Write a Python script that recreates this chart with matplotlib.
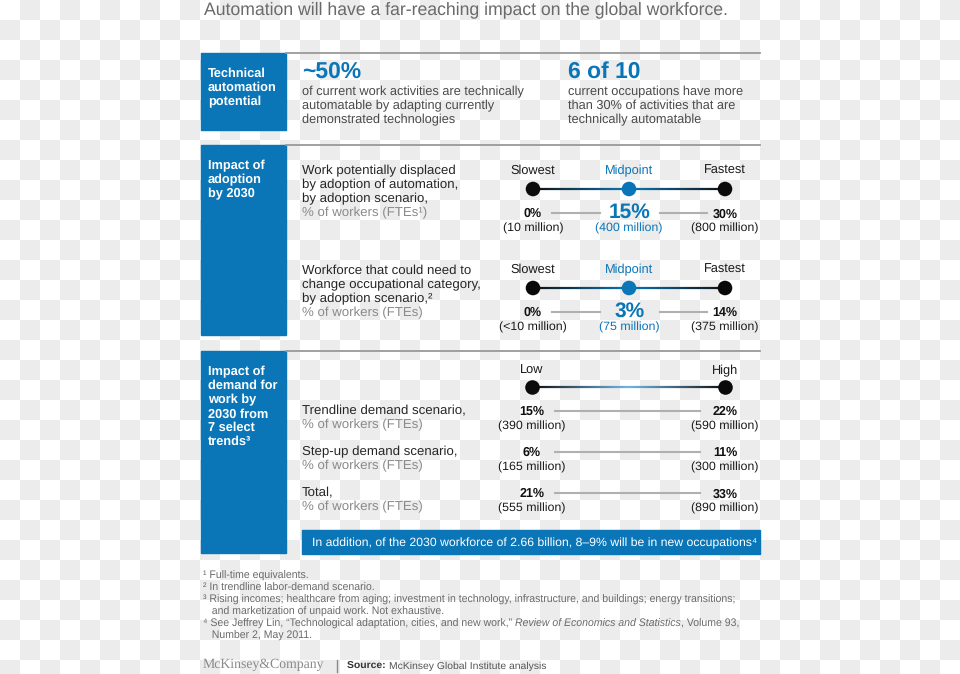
import numpy as np
import matplotlib
matplotlib.use("Agg")
import matplotlib.pyplot as plt
from matplotlib.collections import LineCollection
from matplotlib.colors import LinearSegmentedColormap

plt.rcParams["font.family"] = ["Liberation Sans", "DejaVu Sans"]
plt.rcParams["text.hinting"] = "no_hinting"

# ---- data ----
title = "Automation will have a far-reaching impact on the global workforce."

potential_stats = ["~50%", "6 of 10"]
potential_texts = [
    "of current work activities are technically\nautomatable by adapting currently\ndemonstrated technologies",
    "current occupations have more\nthan 30% of activities that are\ntechnically automatable",
]

adoption_labels = ["Slowest", "Midpoint", "Fastest"]
displaced_pct = [0, 15, 30]
displaced_mn = ["(10 million)", "(400 million)", "(800 million)"]
occ_change_pct = [0, 3, 14]
occ_change_mn = ["(<10 million)", "(75 million)", "(375 million)"]

demand_labels = ["Low", "High"]
demand_rows = ["Trendline demand scenario,", "Step-up demand scenario,", "Total,"]
demand_low_pct = [15, 6, 21]
demand_low_mn = ["(390 million)", "(165 million)", "(555 million)"]
demand_high_pct = [22, 11, 33]
demand_high_mn = ["(590 million)", "(300 million)", "(890 million)"]

banner = "In addition, of the 2030 workforce of 2.66 billion, 8\u20139% will be in new occupations\u2074"

footnotes = [
    "\u00b9 Full-time equivalents.",
    "\u00b2 In trendline labor-demand scenario.",
    "\u00b3 Rising incomes; healthcare from aging; investment in technology, infrastructure, and buildings; energy transitions;",
    "   and marketization of unpaid work. Not exhaustive.",
]

# ---- style ----
BLUE = "#0a76b8"
DARK = "#262626"
MID = "#4a4a4a"
GREY = "#8a8a8a"
RULE = "#9a9a9a"
CONN = "#b0b0b0"
FN = "#6a6a6a"

fig = plt.figure(figsize=(9.6, 6.74), dpi=100)
ax = fig.add_axes([0, 0, 1, 1])

# transparent-background checkerboard
ny, nx = 34, 48
checker = (np.add.outer(np.arange(ny), np.arange(nx)) % 2).astype(float)
ax.imshow(checker, cmap=LinearSegmentedColormap.from_list("chk", ["#ffffff", "#ececec"]),
          extent=(0, nx * 20, ny * 20, 0), interpolation="nearest", zorder=0, aspect="auto")
ax.set_xlim(0, 960)
ax.set_ylim(674, 0)
ax.axis("off")

ax.text(204, 10, title, fontsize=12.7, color="#6a6a6a", va="center", ha="left")

LEFT, SPLIT, RIGHT = 201, 286, 760
TX = 302


def section(y0, y1, label):
    ax.add_patch(plt.Rectangle((LEFT, y0), SPLIT - LEFT, y1 - y0, color=BLUE, zorder=2))
    ax.plot([SPLIT, RIGHT], [y0, y0], color=RULE, lw=1.3, zorder=2)
    for i, line in enumerate(label):
        ax.text(208, y0 + 21 + i * 14, line, color="white", fontsize=9.2,
                fontweight="bold", va="center", ha="left", zorder=3)


def text_block(x, y, lines, n_dark, size=9.5, dark=DARK):
    for i, line in enumerate(lines):
        ax.text(x, y + 1 + i * 14, line, color=dark if i < n_dark else GREY,
                fontsize=size, va="center", ha="left", zorder=3)


def gradient_line(xs, y, colors):
    xx = np.linspace(xs[0], xs[-1], 200)
    segs = [[(xx[i], y), (xx[i + 1], y)] for i in range(len(xx) - 1)]
    cmap = LinearSegmentedColormap.from_list("g", colors)
    lc = LineCollection(segs, colors=cmap(np.linspace(0, 1, len(segs))), lw=1.6, zorder=3)
    ax.add_collection(lc)


# section 1
section(53, 130, ["Technical", "automation", "potential"])
for x, stat, txt in zip([TX, 568], potential_stats, potential_texts):
    ax.text(x, 71.5, stat, color=BLUE, fontsize=16.5, fontweight="bold", va="center", ha="left")
    text_block(x, 91, txt.split("\n"), 3, size=9.2, dark=MID)

# section 2
section(145, 335, ["Impact of", "adoption", "by 2030"])
SX = [533, 629, 725]


def adoption_scale(ytop, pct, mn):
    for x, lab in zip(SX, adoption_labels):
        ax.text(x, ytop + 1, lab, color=BLUE if lab == "Midpoint" else "#1a1a1a",
                fontsize=9.2, va="center", ha="center", zorder=3)
    gradient_line(SX, ytop + 19, ["#111111", BLUE, "#111111"])
    ax.scatter(SX, [ytop + 19] * 3, s=110, c=["#0a0a0a", BLUE, "#0a0a0a"], zorder=4, linewidths=0)
    yv = ytop + 42
    ax.plot([552, 600], [yv + 1, yv + 1], color=CONN, lw=1.5, zorder=2)
    ax.plot([660, 707], [yv + 1, yv + 1], color=CONN, lw=1.5, zorder=2)
    for i, (x, p, m) in enumerate(zip(SX, pct, mn)):
        if i == 1:
            ax.text(x + 1, yv, f"{p}%", color=BLUE, fontsize=15, fontweight="bold",
                    va="center", ha="center", zorder=3)
            ax.text(x, yv + 16, m, color=BLUE, fontsize=8.9, va="center", ha="center", zorder=3)
        else:
            ax.text(x, yv + 2, f"{p}%", color="#111111", fontsize=9, fontweight="bold",
                    va="center", ha="center", zorder=3)
            ax.text(x, yv + 16, m, color="#1a1a1a", fontsize=8.9, va="center", ha="center", zorder=3)


text_block(TX, 170, ["Work potentially displaced", "by adoption of automation,",
                     "by adoption scenario,", "% of workers (FTEs\u00b9)"], 3)
adoption_scale(170, displaced_pct, displaced_mn)
text_block(TX, 270, ["Workforce that could need to", "change occupational category,",
                     "by adoption scenario,\u00b2", "% of workers (FTEs)"], 3)
adoption_scale(269, occ_change_pct, occ_change_mn)

# section 3
section(351, 553, ["Impact of", "demand for", "work by", "2030 from", "7 select", "trends\u00b3"])
DX = [532, 725]
for x, lab in zip(DX, demand_labels):
    ax.text(x, 371, lab, color="#1a1a1a", fontsize=9.2, va="center", ha="center", zorder=3)
gradient_line(DX, 387, ["#111111", "#6fb6e6", "#111111"])
ax.scatter(DX, [387, 387], s=110, c="#0a0a0a", zorder=4, linewidths=0)
for i, row in enumerate(demand_rows):
    y = 410 + i * 41
    text_block(TX, y, [row, "% of workers (FTEs)"], 1)
    ax.plot([555, 700], [y + 1, y + 1], color=CONN, lw=1.5, zorder=2)
    for x, p, m in [(DX[0], demand_low_pct[i], demand_low_mn[i]),
                    (DX[1], demand_high_pct[i], demand_high_mn[i])]:
        ax.text(x, y + 2, f"{p}%", color="#111111", fontsize=9, fontweight="bold",
                va="center", ha="center", zorder=3)
        ax.text(x, y + 16, m, color="#1a1a1a", fontsize=8.9, va="center", ha="center", zorder=3)

ax.add_patch(plt.Rectangle((TX, 530), RIGHT - TX, 24, color=BLUE, zorder=2))
ax.text(312, 543, banner, color="white", fontsize=8.8, va="center", ha="left", zorder=3)

# footnotes
for i, fn in enumerate(footnotes):
    ax.text(203, 576 + i * 12, fn, color=FN, fontsize=7.6, va="center", ha="left")
t = ax.text(203, 624, "\u2074 See Jeffrey Lin, \u201cTechnological adaptation, cities, and new work,\u201d ",
            color=FN, fontsize=7.6, va="center", ha="left")
t = ax.annotate("Review of Economics and Statistics", xy=(1, 0.5), xycoords=t, va="center", ha="left",
                color=FN, fontsize=7.6, style="italic")
ax.annotate(", Volume 93,", xy=(1, 0.5), xycoords=t, va="center", ha="left", color=FN, fontsize=7.6)
ax.text(203, 636, "   Number 2, May 2011.", color=FN, fontsize=7.6, va="center", ha="left")

# logo + source
ax.text(203, 665, "McKinsey&Company", family="Liberation Serif", color="#8a8a8a",
        fontsize=9.9, va="center", ha="left")
ax.plot([337, 337], [660, 672], color="#8a8a8a", lw=1)
t = ax.text(347, 666, "Source: ", color="#333333", fontsize=7.5, fontweight="bold", va="center", ha="left")
ax.annotate("McKinsey Global Institute analysis", xy=(1, 0.5), xycoords=t, va="center", ha="left",
            color="#555555", fontsize=7.5)

fig.savefig("out.png", dpi=100)
